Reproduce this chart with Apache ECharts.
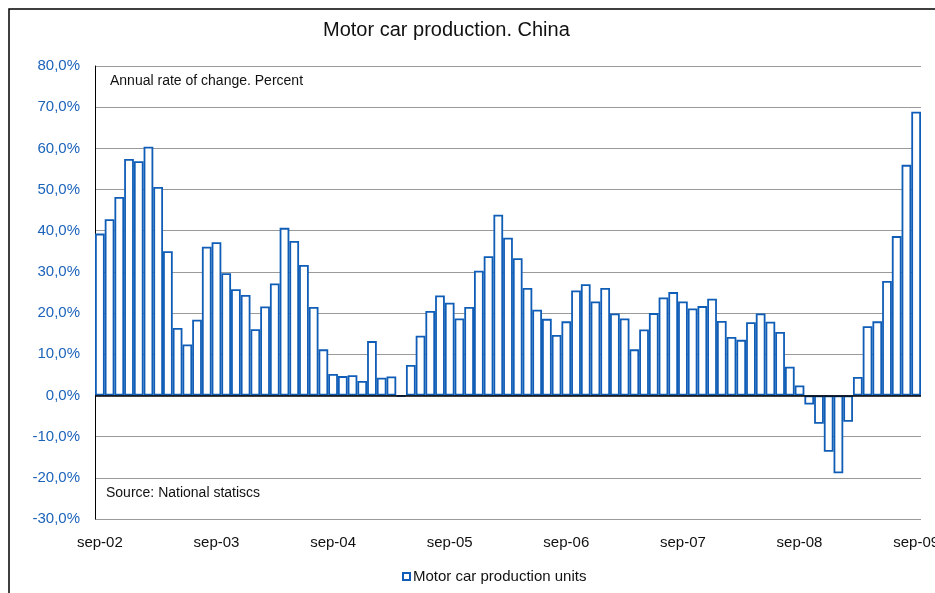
<!DOCTYPE html>
<html>
<head>
<meta charset="utf-8">
<script src="https://cdn.jsdelivr.net/npm/echarts@6/dist/echarts.min.js"></script>
<style>
html,body{margin:0;padding:0;background:#fff;}
#chart{width:935px;height:593px;}
</style>
</head>
<body>
<div id="chart"></div>
<script>
// Month abbreviations (Norwegian), sep-02 .. sep-09
const monthNames = ['jan','feb','mar','apr','mai','jun','jul','aug','sep','okt','nov','des'];
const categories = [];
for (let y = 2002, m = 8; !(y === 2009 && m === 9); ) {
  categories.push(monthNames[m] + '-' + String(y % 100).padStart(2, '0'));
  m++; if (m === 12) { m = 0; y++; }
}

// Annual rate of change, percent
const productionChange = [
  39.3, 42.8, 48.2, 57.4, 56.9, 60.4, 50.6, 35.0, 16.4, 12.4,
  18.4, 36.1, 37.2, 29.7, 25.8, 24.4, 16.1, 21.6, 27.2, 40.7,
  37.5, 31.7, 21.5, 11.2, 5.2, 4.7, 4.9, 3.5, 13.2, 4.3,
  4.6, -0.2, 7.4, 14.5, 20.5, 24.3, 22.5, 18.7, 21.5, 30.3,
  33.8, 43.9, 38.3, 33.3, 26.1, 20.8, 18.6, 14.7, 18.0, 25.5,
  27.0, 22.8, 26.1, 19.9, 18.7, 11.2, 16.0, 20.0, 23.8, 25.1,
  22.8, 21.1, 21.7, 23.5, 18.1, 14.2, 13.5, 17.8, 19.9, 17.9,
  15.4, 7.0, 2.4, -2.2, -6.9, -13.7, -18.9, -6.4, 4.5, 16.8,
  18.0, 27.8, 38.7, 56.0, 68.9
];

const yMin = -30, yMax = 80, yStep = 10;
const seriesName = 'Motor car production units';
const titleText = 'Motor car production. China';
const noteTop = 'Annual rate of change. Percent';
const noteBottom = 'Source: National statiscs';

const FONT = '"Liberation Sans", Arial, Helvetica, sans-serif';
const BLUE = '#0f5db6';
const LABEL_BLUE = '#1c63ba';

const chart = echarts.init(document.getElementById('chart'));
chart.setOption({
  animation: false,
  backgroundColor: '#fff',
  textStyle: { fontFamily: FONT },
  title: {
    text: titleText,
    left: 323, top: 20, padding: 0,
    textStyle: { fontFamily: FONT, fontSize: 20, fontWeight: 'normal', color: '#111' }
  },
  grid: { left: 95, top: 66, width: 826, height: 453, containLabel: false, outerBoundsMode: 'none' },
  legend: {
    data: [{ name: seriesName, icon: 'rect' }],
    left: 397, top: 564,
    itemWidth: 7, itemHeight: 7, itemGap: 4,
    textStyle: { fontFamily: FONT, fontSize: 15, color: '#111', padding: [0, 0, 0, -2] }
  },
  xAxis: {
    type: 'category',
    data: categories,
    boundaryGap: true,
    axisLine: { show: false, onZero: false },
    axisTick: { show: false },
    splitLine: { show: false },
    axisLabel: {
      interval: 11, margin: 16,
      fontFamily: FONT, fontSize: 15, color: '#111'
    }
  },
  yAxis: {
    type: 'value',
    min: yMin, max: yMax, interval: yStep,
    axisLine: { show: true, lineStyle: { color: '#000', width: 1 } },
    axisTick: { show: false },
    splitLine: { show: true, lineStyle: { color: '#9a9a9a', width: 1 } },
    axisLabel: {
      margin: 15, fontFamily: FONT, fontSize: 15, color: LABEL_BLUE,
      formatter: v => v.toFixed(1).replace('.', ',') + '%'
    }
  },
  series: [{
    name: seriesName,
    type: 'bar',
    data: productionChange,
    barCategoryGap: '0%',
    itemStyle: { color: '#fff', borderColor: BLUE, borderWidth: 1.8 },
    markLine: {
      silent: true,
      symbol: 'none',
      label: { show: false },
      lineStyle: { color: '#000', width: 1.5, type: 'solid' },
      data: [{ yAxis: 0 }]
    }
  }],
  graphic: [
    { type: 'rect', shape: { x: 9, y: 9, width: 1000, height: 1000 },
      style: { fill: 'none', stroke: '#000', lineWidth: 1.5 }, silent: true },
    { type: 'text', left: 110, top: 74,
      style: { text: noteTop, fontFamily: FONT, fontSize: 14, fill: '#111' } },
    { type: 'text', left: 106, top: 486,
      style: { text: noteBottom, fontFamily: FONT, fontSize: 14, fill: '#111' } }
  ]
});
</script>
</body>
</html>
